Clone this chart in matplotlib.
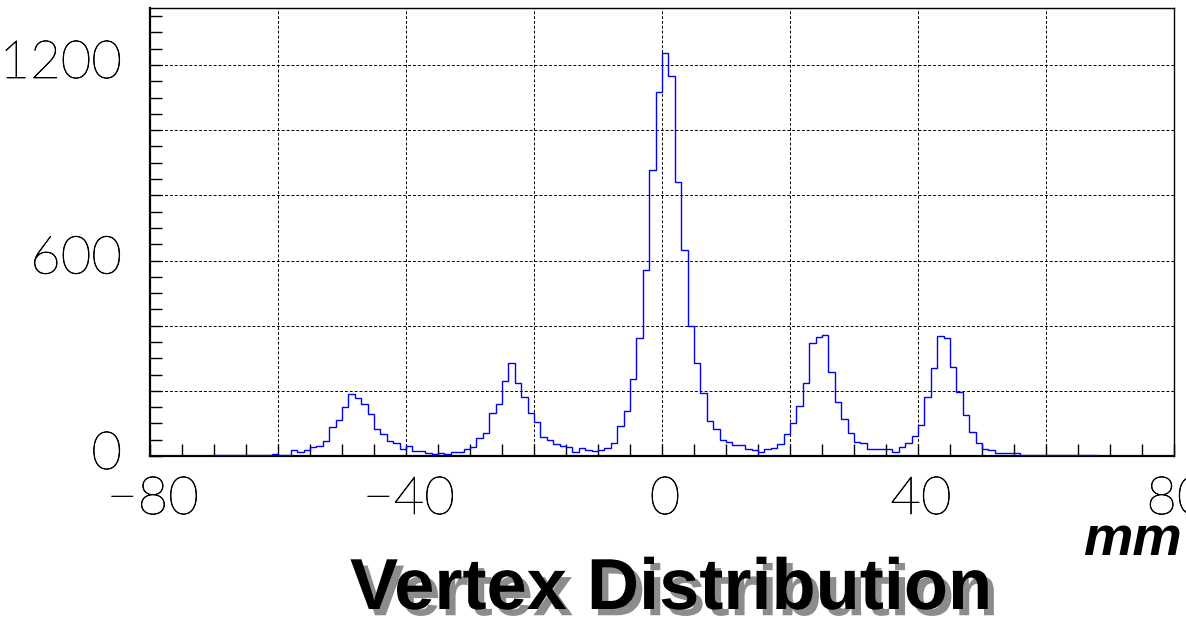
import numpy as np
import matplotlib
matplotlib.use("Agg")
import matplotlib.pyplot as plt
from matplotlib import patheffects as pe
from matplotlib.ticker import MultipleLocator
from matplotlib.transforms import ScaledTranslation, blended_transform_factory

# ---------------- data ----------------
x_low, x_high = -80, 80          # histogram range (mm), 1 mm bins
counts = (
    [0] * 10                                                    # -80 .. -71
    + [2, 2, 2, 2, 2, 2, 2, 2, 2]                               # -70 .. -62
    + [7, 2, 2, 18, 11, 18, 27, 30, 45, 88]                     # -61 .. -52
    + [112, 150, 189, 178, 159, 128, 84, 66, 45, 39]            # -51 .. -42
    + [21, 30, 15, 15, 10, 5, 10, 6, 13, 13]                    # -41 .. -32
    + [20, 29, 56, 72, 131, 160, 231, 286, 223, 182]            # -31 .. -22
    + [133, 103, 59, 49, 38, 30, 27, 13, 26, 19]                # -21 .. -12
    + [14, 18, 26, 41, 91, 138, 236, 361, 571, 878]             # -11 .. -2
    + [1116, 1236, 1166, 842, 632, 399, 286, 194, 107, 82]      # -1 .. 8
    + [49, 44, 33, 33, 21, 18, 13, 21, 26, 37]                  # 9 .. 18
    + [66, 102, 153, 225, 346, 364, 371, 259, 167, 115]         # 19 .. 28
    + [70, 44, 41, 22, 22, 20, 21, 13, 29, 39]                  # 29 .. 38
    + [60, 96, 180, 271, 368, 361, 274, 197, 126, 75]           # 39 .. 48
    + [41, 21, 18, 10, 10, 10, 10, 4, 4, 4]                     # 49 .. 58
    + [4, 4, 4, 2, 2, 2, 2, 2, 2]                               # 59 .. 67
    + [0] * 12                                                  # 68 .. 79
)
x_tick_labels = [-80, -40, 0, 40, 80]
y_tick_labels = [0, 600, 1200]
y_max = 1375
title_text = "Vertex Distribution"
x_unit = "mm"

# ---------------- figure ----------------
W, H = 1186, 618
fig = plt.figure(figsize=(W / 100, H / 100), dpi=100)
fig.patch.set_facecolor("white")
ax = fig.add_axes([150 / W, 1 - 456 / H, (1174 - 150) / W, (456 - 8) / H])

edges = np.linspace(x_low, x_high, len(counts) + 1)
ax.stairs(counts, edges, color="#0000ff", lw=1.0, zorder=3)

ax.set_xlim(x_low, x_high)
ax.set_ylim(0, y_max)

ax.xaxis.set_major_locator(MultipleLocator(20))
ax.xaxis.set_minor_locator(MultipleLocator(5))
ax.yaxis.set_major_locator(MultipleLocator(200))
ax.yaxis.set_minor_locator(MultipleLocator(50))
ax.grid(True, which="major", color="black", linestyle=(0, (3, 2)), lw=0.7, zorder=1)
ax.tick_params(which="both", direction="in", length=8.5, width=1.0, color="black",
               labelbottom=False, labelleft=False, top=False, right=False)

for side in ("left", "bottom"):
    ax.spines[side].set_linewidth(1.6)
for side in ("top", "right"):
    ax.spines[side].set_linewidth(1.0)

thin_fam = ["Noto Sans ExtraCondensed Thin", "Noto Sans ExtraCondensed",
            "Liberation Sans Narrow", "Lato", "DejaVu Sans"]
thin_fx = [pe.Stroke(linewidth=0.5, foreground="black"), pe.Normal()]
lab_kw = dict(family=thin_fam, fontsize=38, fontweight=100, fontstretch="condensed",
              color="black", path_effects=thin_fx)

ytr = blended_transform_factory(ax.transAxes, ax.transData)
for v in y_tick_labels:
    ax.text(0, v, str(v), ha="right", va="baseline", clip_on=False,
            transform=ytr + ScaledTranslation(-0.28, -0.13, fig.dpi_scale_trans), **lab_kw)

xtr = blended_transform_factory(ax.transData, ax.transAxes)
for v in x_tick_labels:
    s = str(v).replace("-", "\u2212")
    ax.text(v, 0, s, ha="center", va="baseline", clip_on=False,
            transform=xtr + ScaledTranslation(0.03, -0.58, fig.dpi_scale_trans), **lab_kw)

bold_fam = ["Liberation Sans Narrow", "Noto Sans ExtraCondensed", "Liberation Sans", "DejaVu Sans"]
fig.text(1182 / W, 1 - 555 / H, x_unit, ha="right", va="baseline",
         family=bold_fam, fontsize=40, fontweight="bold", fontstyle="italic", color="black")

fig.text(350 / W, 1 - 609 / H, title_text, ha="left", va="baseline",
         family=bold_fam, fontsize=52, fontweight="bold", color="black",
         path_effects=[pe.SimplePatchShadow(offset=(4.5, -4.5), shadow_rgbFace="#8c8c8c", alpha=1.0),
                       pe.Normal()])

fig.savefig("out.png", dpi=100, facecolor="white")
